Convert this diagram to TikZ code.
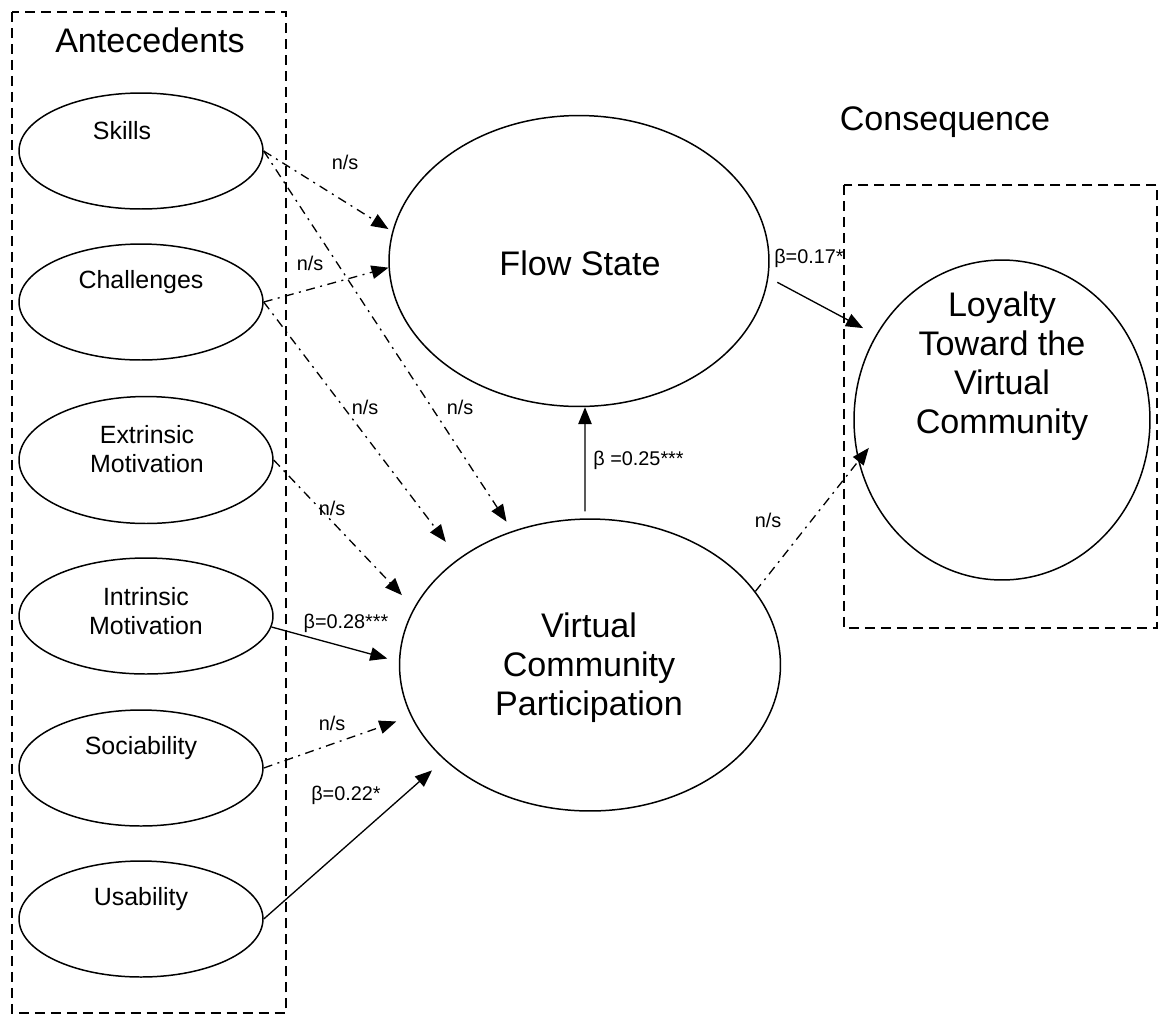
\documentclass[tikz,border=0pt]{standalone}
\usepackage{fontspec}
\setmainfont{Liberation Sans}
\usetikzlibrary{shapes.geometric,arrows.meta}
\tikzset{
  ell/.style={draw, ellipse, line width=0.85pt, inner sep=0pt},
  smell/.style={ell, minimum width=4.88cm, minimum height=2.32cm},
  grp/.style={draw, dash pattern=on 0.2cm off 0.12cm, line width=0.85pt},
  sig/.style={-{Triangle[length=0.34cm,width=0.27cm]}, line width=0.75pt},
  ns/.style={sig, dash pattern=on 0.18cm off 0.11cm on 0.04cm off 0.11cm},
  lbl/.style={font=\fontsize{11.3}{13}\selectfont, inner sep=0pt},
  smtxt/.style={font=\fontsize{14.2}{16.4}\selectfont, align=center, inner sep=0pt},
  bigtxt/.style={font=\fontsize{19.4}{22.2}\selectfont, align=center, inner sep=0pt},
}
\begin{document}
\begin{tikzpicture}[x=0.02cm,y=-0.02cm]
\useasboundingbox (0,0) rectangle (1160,1019);
% group boxes
\draw[grp] (12,12) rectangle (286,1013);
\draw[grp] (844,185) rectangle (1157,628);
\node[bigtxt] (anttitle) at (150,40) {Antecedents};
\node[bigtxt] (contitle) at (945,122) {Consequence};
% antecedent ellipses
\node[smell] (skills) at (141,151) {};
\node[smtxt] (skillst) at (122,131) {Skills};
\node[smell] (chal) at (141,302) {};
\node[smtxt] (chalt) at (141,282) {Challenges};
\node[ell, minimum width=5.08cm, minimum height=2.54cm] (extr) at (146,460) {};
\node[smtxt] (extrt) at (147,449) {Extrinsic\\Motivation};
\node[ell, minimum width=5.08cm, minimum height=2.32cm] (intr) at (146,616) {};
\node[smtxt] (intrt) at (146,611) {Intrinsic\\Motivation};
\node[smell] (soc) at (141,768) {};
\node[smtxt] (soct) at (141,748) {Sociability};
\node[smell] (usab) at (141,919) {};
\node[smtxt] (usabt) at (141,899) {Usability};
% main constructs
\node[ell, minimum width=7.6cm, minimum height=5.82cm] (fs) at (579,261) {};
\node[bigtxt] (fst) at (580,263) {Flow State};
\node[ell, minimum width=7.62cm, minimum height=5.84cm] (vcp) at (590,665) {};
\node[bigtxt] (vcpt) at (589,668) {Virtual\\Community\\Participation};
\node[ell, minimum width=5.92cm, minimum height=6.4cm] (loy) at (1002,420) {};
\node[bigtxt] (loyt) at (1002,366) {Loyalty\\Toward the\\Virtual\\Community};
% connectors
\draw[ns, shorten >=0.09cm] (skills.east) -- (fs.171.4);
\draw[ns] (chal.east) -- (fs.182.1);
\draw[ns, shorten >=0.22cm] (skills.east) -- (vcp.120.7);
\draw[ns, shorten >=0.42cm] (chal.east) -- (vcp.141.2);
\draw[ns, shorten >=0.35cm] (extr.east) -- (vcp.162.1);
\draw[sig, shorten >=0.24cm] (intr.-5) -- (vcp.179.4);
\draw[ns, shorten >=0.31cm] (soc.east) -- (vcp.196.5);
\draw[sig, shorten >=0.32cm] (usab.east) -- (vcp.213.1);
\draw[sig] ([xshift=-0.1cm,yshift=0.14cm]vcp.north) -- ([xshift=0.12cm]fs.south);
\draw[sig, shorten <=0.2cm, shorten >=0.29cm] (fs.-5.5) -- (loy.146.3);
\draw[ns, shorten >=-0.34cm] (vcp.24.5) -- (loy.196);
% labels
\node[lbl] (l1) at (345,162) {n/s};
\node[lbl] (l2) at (310,263) {n/s};
\node[lbl] (l3) at (365,407) {n/s};
\node[lbl] (l4) at (460,407) {n/s};
\node[lbl] (l5) at (332,508) {n/s};
\node[lbl] (l6) at (346,623) {β=0.28***};
\node[lbl] (l7) at (332,723) {n/s};
\node[lbl] (l8) at (346,795) {β=0.22*};
\node[lbl, anchor=west] (l9) at (593,460) {β =0.25***};
\node[lbl] (l10) at (809,258) {β=0.17*};
\node[lbl] (l11) at (768,520) {n/s};
\end{tikzpicture}
\end{document}
